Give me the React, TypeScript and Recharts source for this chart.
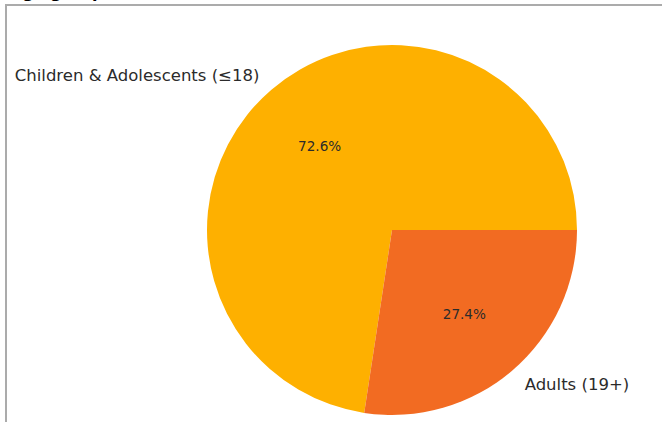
import React from "react";
import { PieChart, Pie, Cell } from "recharts";

// age groups and their share of patients (%)
const groups = ["Children & Adolescents (≤18)", "Adults (19+)"];
const shares = [72.6, 27.4];
const colors = ["#FEB000", "#F26B22"];

const data = groups.map((name, i) => ({ name, value: shares[i] }));

const RADIAN = Math.PI / 180;

const renderLabels = (props: any) => {
  const { cx, cy, midAngle, outerRadius, percent, name } = props;
  const cos = Math.cos(-midAngle * RADIAN);
  const sin = Math.sin(-midAngle * RADIAN);
  const inner = outerRadius * 0.6;
  const outer = outerRadius * 1.1;
  return (
    <g>
      <text
        x={cx + inner * cos}
        y={cy + inner * sin}
        textAnchor="middle"
        dominantBaseline="central"
        fill="#2b2b2b"
        fontSize={13.6}
        fontFamily="DejaVu Sans"
      >
        {(percent * 100).toFixed(1)}%
      </text>
      <text
        x={cx + outer * cos}
        y={cy + outer * sin}
        textAnchor={cos >= 0 ? "start" : "end"}
        dominantBaseline="central"
        fill="#2b2b2b"
        fontSize={16.5}
        fontFamily="DejaVu Sans"
      >
        {name}
      </text>
    </g>
  );
};

export default function App() {
  return (
    <div
      style={{
        position: "fixed",
        left: 0,
        top: 0,
        width: 662,
        height: 422,
        overflow: "hidden",
        background: "#fff",
      }}
    >
      <div style={{ position: "absolute", left: 0, top: 0 }}>
        <PieChart
          width={662}
          height={422}
          margin={{ top: 0, right: 0, bottom: 0, left: 0 }}
        >
          <Pie
            data={data}
            dataKey="value"
            nameKey="name"
            cx={392}
            cy={230}
            outerRadius={185}
            startAngle={0}
            endAngle={360}
            stroke="none"
            labelLine={false}
            label={renderLabels}
            isAnimationActive={false}
          >
            {data.map((entry, i) => (
              <Cell key={entry.name} fill={colors[i]} />
            ))}
          </Pie>
        </PieChart>
      </div>
      {/* heading sits just above the frame, mostly clipped */}
      <div
        style={{
          position: "absolute",
          left: 10,
          top: -15,
          fontFamily: "DejaVu Sans",
          fontWeight: "bold",
          fontSize: 16,
          lineHeight: "16px",
          color: "#000",
          whiteSpace: "nowrap",
        }}
      >
        Age group
      </div>
      <div
        style={{
          position: "absolute",
          left: 5,
          top: 4,
          width: 700,
          height: 500,
          borderTop: "2px solid #ababab",
          borderLeft: "2px solid #ababab",
          pointerEvents: "none",
        }}
      />
    </div>
  );
}
